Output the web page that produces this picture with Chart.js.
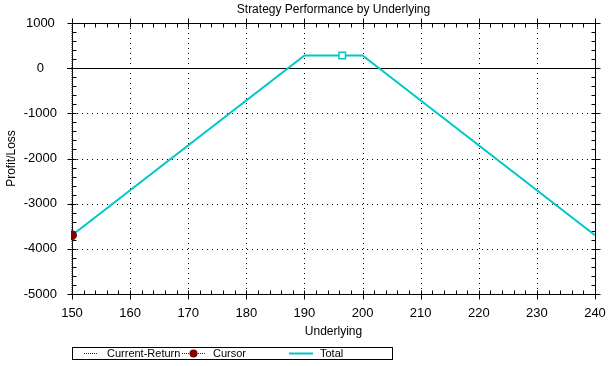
<!DOCTYPE html>
<html>
<head>
<meta charset="utf-8">
<script src="https://cdn.jsdelivr.net/npm/chart.js@4"></script>
<style>
  html, body { margin: 0; padding: 0; background: #fff; }
  #wrap { width: 612px; height: 366px; }
</style>
</head>
<body>
<div id="wrap"><canvas id="chart" width="612" height="366"></canvas></div>
<script>
// ===== Data =====
const underlying = [150, 190, 200, 240];
const totalPL = [-3700, 280, 280, -3700];
const cursorX = [150, 150, 150];
const cursorPL = [1000, -3700, -5000];
const markerX = [196.5];
const markerPL = [280];
const xTicks = [150, 160, 170, 180, 190, 200, 210, 220, 230, 240];
const yTicks = [1000, 0, -1000, -2000, -3000, -4000, -5000];

const FONT = "'Liberation Sans', Arial, sans-serif";
const cyan = "#00c8c8";
const darkRed = "#800000";

// ===== Frame, grid, ticks, titles, legend =====
const framePlugin = {
  id: "frame",
  beforeDatasetsDraw(chart) {
    const { ctx, chartArea: a, scales: { x, y } } = chart;
    ctx.save();
    ctx.strokeStyle = "#000";
    ctx.lineWidth = 1;
    ctx.setLineDash([1, 4]);
    xTicks.forEach(v => {
      const px = Math.round(x.getPixelForValue(v)) + 0.5;
      if (v === 150 || v === 240) return;
      ctx.beginPath(); ctx.moveTo(px, a.top); ctx.lineTo(px, a.bottom); ctx.stroke();
    });
    yTicks.forEach(v => {
      if (v === 0 || v === 1000 || v === -5000) return;
      const py = Math.round(y.getPixelForValue(v)) + 0.5;
      ctx.beginPath(); ctx.moveTo(a.left, py); ctx.lineTo(a.right, py); ctx.stroke();
    });
    ctx.setLineDash([]);
    // zero line
    const zy = Math.round(y.getPixelForValue(0)) + 0.5;
    ctx.beginPath(); ctx.moveTo(a.left - 5, zy); ctx.lineTo(a.right, zy); ctx.stroke();

    // frame + ticks
    const L = Math.round(a.left) + 0.5, R = Math.round(a.right) + 0.5;
    const T = Math.round(a.top) + 0.5, B = Math.round(a.bottom) + 0.5;
    ctx.strokeRect(L, T, R - L, B - T);
    ctx.beginPath();
    for (let v = 150; v <= 240; v += 2) {
      const px = Math.round(x.getPixelForValue(v)) + 0.5;
      const major = v % 10 === 0;
      ctx.moveTo(px, B + (major ? 5 : 0)); ctx.lineTo(px, B - 4);
      ctx.moveTo(px, T - (major ? 5 : 0)); ctx.lineTo(px, T + 4);
    }
    for (let v = -5000; v <= 1000; v += 200) {
      const py = Math.round(y.getPixelForValue(v)) + 0.5;
      const major = v % 1000 === 0;
      ctx.moveTo(L - (major ? 5 : 0), py); ctx.lineTo(L + 4, py);
      ctx.moveTo(R + (major ? 5 : 0), py); ctx.lineTo(R - 4, py);
    }
    ctx.stroke();
    ctx.restore();
  },
  afterDraw(chart) {
    const { ctx, chartArea: a } = chart;
    ctx.save();
    // titles
    ctx.fillStyle = "#000";
    ctx.font = "12px " + FONT;
    ctx.textAlign = "center";
    ctx.textBaseline = "middle";
    ctx.fillText("Strategy Performance by Underlying", (a.left + a.right) / 2, 10);
    ctx.fillText("Underlying", (a.left + a.right) / 2, 332);
    ctx.save();
    ctx.translate(12, (a.top + a.bottom) / 2);
    ctx.rotate(-Math.PI / 2);
    ctx.fillText("Profit/Loss", 0, 0);
    ctx.restore();

    // legend
    ctx.strokeStyle = "#000";
    ctx.lineWidth = 1;
    ctx.strokeRect(72.5, 347.5, 320, 12);
    ctx.textAlign = "left";
    ctx.font = "11px " + FONT;
    ctx.fillText("Current-Return", 107, 354);
    ctx.fillText("Cursor", 213, 354);
    ctx.fillText("Total", 320, 354);
    ctx.strokeStyle = darkRed;
    ctx.setLineDash([1, 1]);
    ctx.beginPath();
    ctx.moveTo(84, 353.5); ctx.lineTo(98, 353.5);
    ctx.moveTo(182, 353.5); ctx.lineTo(205, 353.5);
    ctx.stroke();
    ctx.setLineDash([]);
    ctx.fillStyle = darkRed;
    ctx.beginPath(); ctx.arc(193.5, 353.5, 4, 0, Math.PI * 2); ctx.fill();
    ctx.strokeStyle = cyan;
    ctx.lineWidth = 2;
    ctx.beginPath(); ctx.moveTo(289, 353.5); ctx.lineTo(313, 353.5); ctx.stroke();
    ctx.restore();
  }
};

const ctx = document.getElementById("chart").getContext("2d");
new Chart(ctx, {
  type: "scatter",
  data: {
    datasets: [
      {
        label: "Cursor",
        data: cursorX.map((u, i) => ({ x: u, y: cursorPL[i] })),
        showLine: true,
        borderColor: darkRed,
        borderWidth: 1,
        borderDash: [1, 1],
        pointRadius: [0, 4.5, 0],
        pointBackgroundColor: darkRed,
        pointBorderColor: darkRed,
        clip: { left: 1, right: 0, top: 0, bottom: 0 }
      },
      {
        label: "Current-Return",
        data: [],
        showLine: true,
        borderColor: darkRed,
        borderDash: [1, 2]
      },
      {
        label: "Marker",
        data: markerX.map((u, i) => ({ x: u, y: markerPL[i] })),
        pointStyle: "rect",
        pointRadius: 4.6,
        pointBackgroundColor: "#fff",
        pointBorderColor: cyan,
        pointBorderWidth: 1.5
      },
      {
        label: "Total",
        data: underlying.map((u, i) => ({ x: u, y: totalPL[i] })),
        showLine: true,
        borderColor: cyan,
        borderWidth: 2,
        pointRadius: 0,
        fill: false
      }
    ]
  },
  options: {
    responsive: false,
    animation: false,
    events: [],
    layout: { padding: { top: 23, right: 17, bottom: 0, left: 0 } },
    plugins: { legend: { display: false }, title: { display: false }, tooltip: { enabled: false } },
    scales: {
      x: {
        type: "linear",
        min: 150, max: 240,
        afterFit: s => { s.height = 72; s.paddingLeft = 0; s.paddingRight = 0; },
        afterBuildTicks: s => { s.ticks = xTicks.map(v => ({ value: v })); },
        grid: { display: false, drawTicks: false },
        border: { display: false },
        ticks: { color: "#000", font: { family: FONT, size: 13 }, padding: 12, maxRotation: 0 }
      },
      y: {
        min: -5000, max: 1000,
        afterFit: s => { s.width = 72; s.paddingTop = 0; s.paddingBottom = 0; },
        afterBuildTicks: s => { s.ticks = yTicks.map(v => ({ value: v })); },
        grid: { display: false, drawTicks: false },
        border: { display: false },
        ticks: {
          color: "#000", font: { family: FONT, size: 13 }, padding: 15, crossAlign: "center",
          callback: v => String(v)
        }
      }
    }
  },
  plugins: [framePlugin]
});
</script>
</body>
</html>
